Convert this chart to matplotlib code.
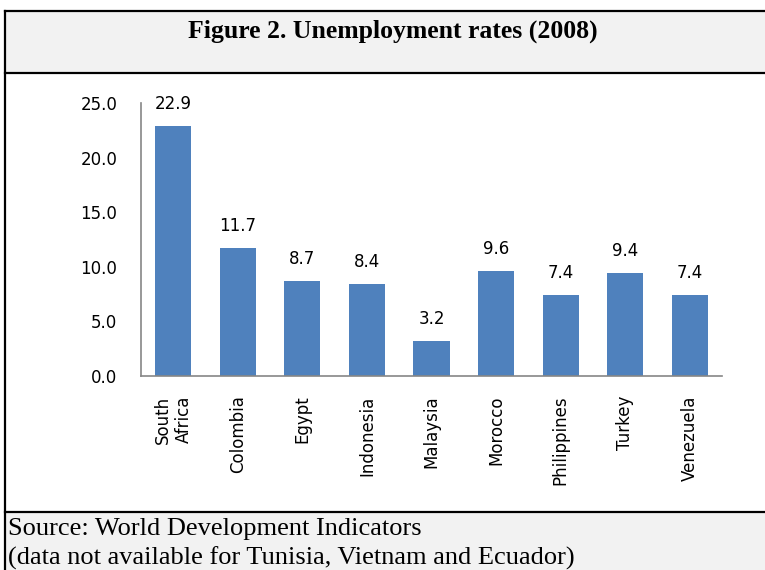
import numpy as np
import matplotlib.pyplot as plt
from matplotlib.patches import Rectangle
from matplotlib.lines import Line2D

countries = ["South\nAfrica", "Colombia", "Egypt", "Indonesia", "Malaysia",
             "Morocco", "Philippines", "Turkey", "Venezuela"]
rates = [22.9, 11.7, 8.7, 8.4, 3.2, 9.6, 7.4, 9.4, 7.4]
yticks = [0, 5, 10, 15, 20, 25]

W, H = 765, 570


def fx(px):
    return px / W


def fy(py):
    return 1 - py / H


fig = plt.figure(figsize=(W / 100, H / 100), dpi=100)
fig.patch.set_facecolor("white")

# --------------------------------------------------
# FRAME (title box / chart / source box)
# --------------------------------------------------
gray = "#f2f2f2"
fig.patches.append(Rectangle((fx(5), fy(73)), 1, fy(11) - fy(73),
                             transform=fig.transFigure, facecolor=gray,
                             edgecolor="none", zorder=0))
fig.patches.append(Rectangle((fx(5), 0), 1, fy(512),
                             transform=fig.transFigure, facecolor=gray,
                             edgecolor="none", zorder=0))
for yy in (11, 73, 512):
    fig.lines.append(Line2D([fx(5), 1], [fy(yy), fy(yy)], transform=fig.transFigure,
                            color="black", lw=1.6))
fig.lines.append(Line2D([fx(5), fx(5)], [0, fy(11)], transform=fig.transFigure,
                        color="black", lw=1.6))

fig.text(fx(393), fy(31), "Figure 2. Unemployment rates (2008)",
         family="Liberation Serif", weight="bold", fontsize=18.5,
         ha="center", va="center")
fig.text(fx(8), fy(529), "Source: World Development Indicators",
         family="Liberation Serif", fontsize=19, ha="left", va="center")
fig.text(fx(8), fy(558), "(data not available for Tunisia, Vietnam and Ecuador)",
         family="Liberation Serif", fontsize=19, ha="left", va="center")

# --------------------------------------------------
# BAR CHART
# --------------------------------------------------
lab_font = dict(family="DejaVu Sans", fontsize=12)

ax = fig.add_axes([fx(141), fy(376), fx(722) - fx(141), fy(103) - fy(376)])
x = np.arange(len(countries))
ax.bar(x, rates, width=0.56, color="#4f81bd", zorder=2)
for xi, v in zip(x, rates):
    ax.text(xi, v + 1.2, f"{v:.1f}", ha="center", va="bottom",
            color="black", clip_on=False, **lab_font)

ax.set_xlim(-0.5, len(countries) - 0.5)
ax.set_ylim(0, 25)
ax.set_yticks(yticks)
ax.set_yticklabels([f"{t:.1f}" for t in yticks], **lab_font)
ax.set_xticks(x)
ax.set_xticklabels(countries, rotation=90, va="top", ha="center",
                   multialignment="right", **lab_font)
ax.tick_params(axis="both", length=0)
ax.tick_params(axis="y", pad=17)
ax.tick_params(axis="x", pad=14)

for s in ("top", "right"):
    ax.spines[s].set_visible(False)
for s in ("left", "bottom"):
    ax.spines[s].set_color("#868686")
    ax.spines[s].set_linewidth(1.2)
ax.set_facecolor("none")

fig.savefig("out.png", dpi=100)
